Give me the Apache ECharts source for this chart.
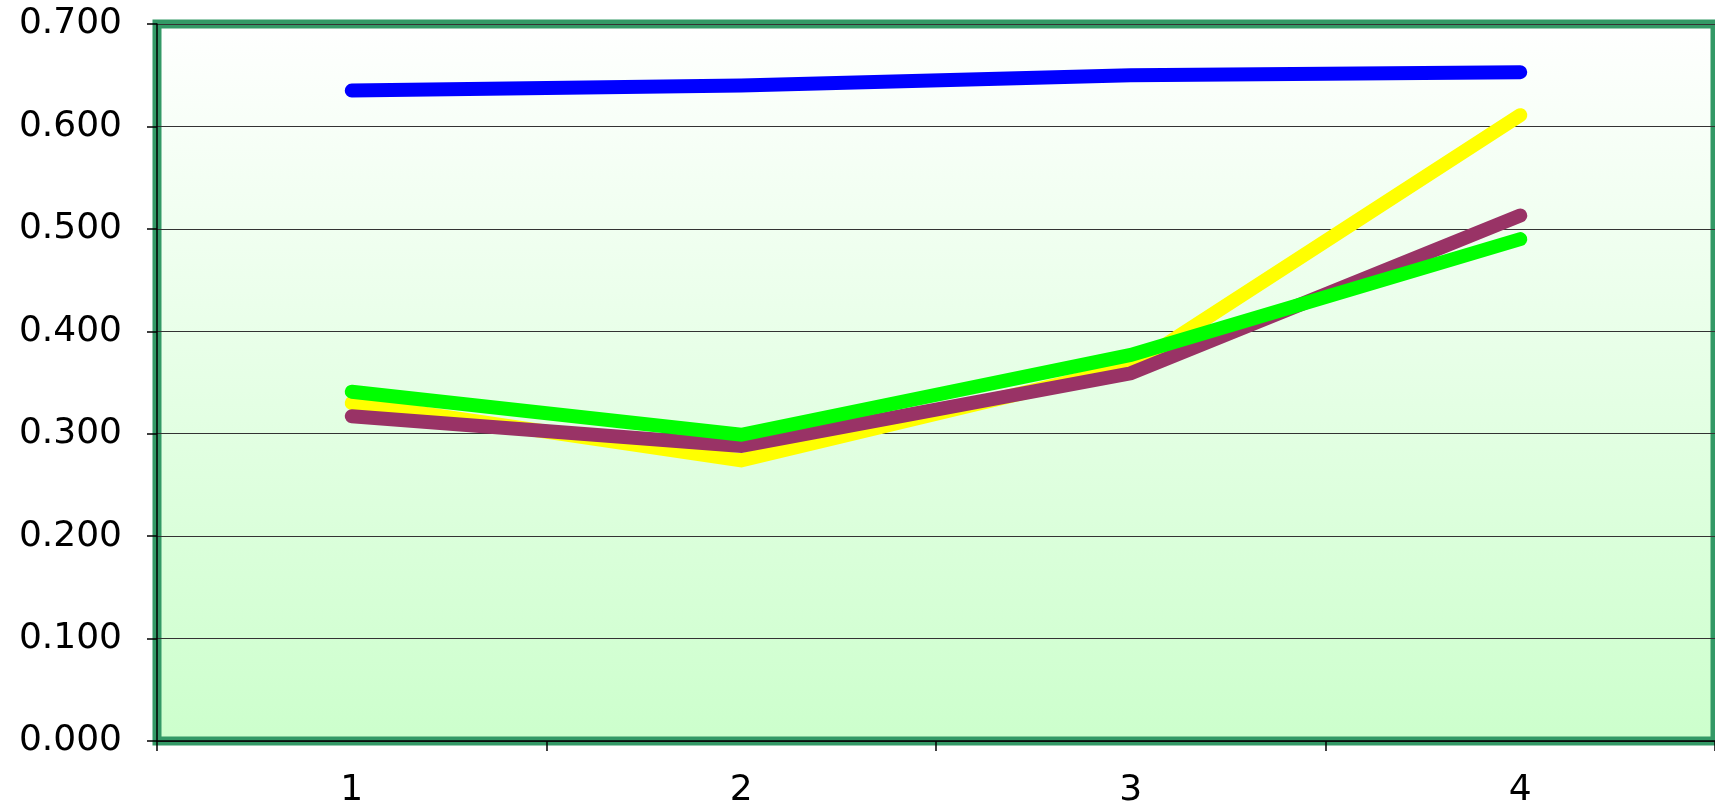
<!DOCTYPE html>
<html>
<head>
<meta charset="utf-8">
<script src="https://cdn.jsdelivr.net/npm/echarts@6/dist/echarts.min.js"></script>
<style>
  html, body { margin: 0; padding: 0; background: #fff; }
  #lineChart { width: 1715px; height: 809px; }
</style>
</head>
<body>
<div id="lineChart"></div>
<script>
const categories = ['1', '2', '3', '4'];
const blueValues = [0.635, 0.640, 0.650, 0.653];
const yellowValues = [0.330, 0.274, 0.365, 0.611];
const purpleValues = [0.317, 0.288, 0.359, 0.513];
const greenValues = [0.341, 0.299, 0.377, 0.490];

const chart = echarts.init(document.getElementById('lineChart'));

const lineSeries = (data, color) => ({
  type: 'line',
  data: data,
  symbol: 'none',
  showSymbol: false,
  lineStyle: { color: color, width: 14, cap: 'round', join: 'miter' },
  itemStyle: { color: color }
});

const option = {
  animation: false,
  grid: {
    left: 157,
    right: -2,
    top: 24,
    bottom: 67,
    show: true,
    borderColor: '#339966',
    borderWidth: 9,
    backgroundColor: new echarts.graphic.LinearGradient(0, 0, 0, 1, [
      { offset: 0, color: '#ffffff' },
      { offset: 1, color: '#ccffcc' }
    ])
  },
  xAxis: {
    type: 'category',
    data: categories,
    boundaryGap: true,
    axisLine: { show: true, lineStyle: { color: '#000', width: 1.5 } },
    axisTick: { show: true, length: 10, lineStyle: { color: '#000', width: 1.5 } },
    axisLabel: {
      color: '#000',
      fontFamily: 'DejaVu Sans',
      fontSize: 36,
      margin: 32
    },
    splitLine: { show: false }
  },
  yAxis: {
    type: 'value',
    min: 0,
    max: 0.7,
    interval: 0.1,
    axisLine: { show: true, lineStyle: { color: '#000', width: 1.5 } },
    axisTick: { show: true, length: 10, lineStyle: { color: '#000', width: 1.5 } },
    axisLabel: {
      color: '#000',
      fontFamily: 'DejaVu Sans',
      fontSize: 36,
      margin: 35,
      formatter: v => v.toFixed(3)
    },
    splitLine: { show: true, lineStyle: { color: '#333', width: 1.2 } }
  },
  series: [
    lineSeries(blueValues, '#0000ff'),
    lineSeries(yellowValues, '#ffff00'),
    lineSeries(purpleValues, '#993366'),
    lineSeries(greenValues, '#00ff00')
  ]
};

chart.setOption(option);
</script>
</body>
</html>
